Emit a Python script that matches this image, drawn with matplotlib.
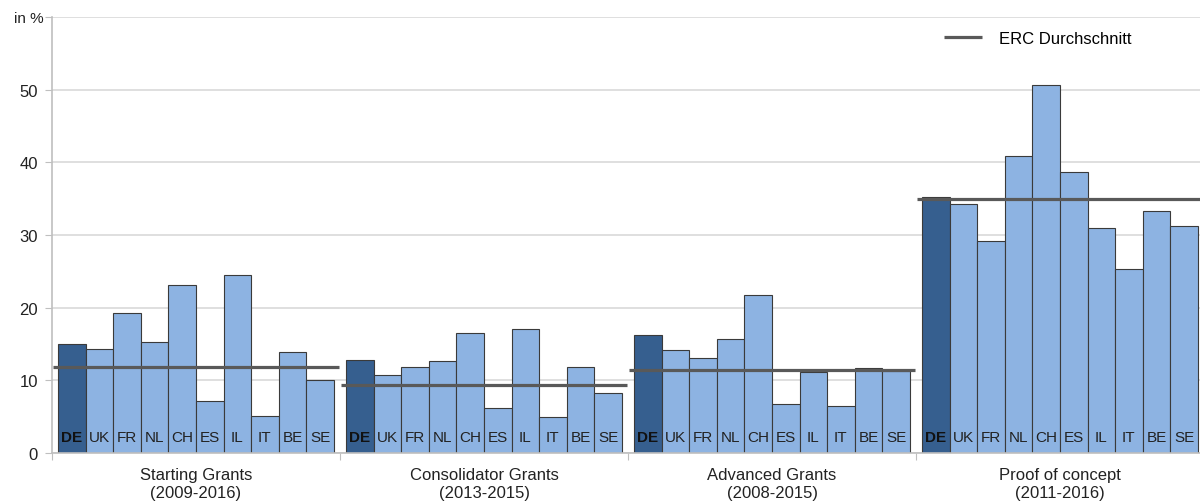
import numpy as np
import matplotlib.pyplot as plt

plt.rcParams['font.family'] = ['Liberation Sans', 'DejaVu Sans']

countries = ['DE', 'UK', 'FR', 'NL', 'CH', 'ES', 'IL', 'IT', 'BE', 'SE']
groups = ['Starting Grants\n(2009-2016)', 'Consolidator Grants\n(2013-2015)',
          'Advanced Grants\n(2008-2015)', 'Proof of concept\n(2011-2016)']

starting = [15.0, 14.3, 19.2, 15.3, 23.1, 7.2, 24.5, 5.05, 13.9, 10.0]
consolidator = [12.8, 10.8, 11.8, 12.7, 16.5, 6.25, 17.0, 4.95, 11.9, 8.25]
advanced = [16.3, 14.2, 13.1, 15.7, 21.8, 6.8, 11.2, 6.4, 11.7, 11.3]
proof = [35.2, 34.3, 29.2, 40.9, 50.6, 38.7, 31.0, 25.3, 33.3, 31.3]
erc_avg = [11.9, 9.4, 11.4, 34.9]

series = [starting, consolidator, advanced, proof]

dark = '#365f8f'
light = '#8db3e2'

fig = plt.figure(figsize=(12, 5.02), dpi=100)
ax = fig.add_axes([52/1200, 1 - 454/502, 1 - 52/1200, (454 - 18)/502])

bw = 0.0958
off = 0.0208
for g, vals in enumerate(series):
    x = g + off + (np.arange(10) + 0.5) * bw
    cols = [dark] + [light] * 9
    ax.bar(x, vals, width=bw, color=cols, edgecolor='#3a3a3a', linewidth=0.8, zorder=2)
    for k, c in enumerate(countries):
        ax.text(x[k], 2.2, c, ha='center', va='center', fontsize=11,
                fontweight='bold' if c == 'DE' else 'normal',
                color='#111111' if c == 'DE' else '#222222', zorder=4)
    ax.hlines(erc_avg[g], g + 0.005, g + 0.995, color='#595959', linewidth=2.3, zorder=3,
              label='ERC Durchschnitt' if g == 0 else None)

ax.set_xlim(0, 1148/288)
ax.set_ylim(0, 60)
ax.set_yticks(np.arange(0, 61, 10))
ax.set_yticklabels(['0', '10', '20', '30', '40', '50', ''])
ax.grid(axis='y', color='#d9d9d9', linewidth=1.2, zorder=0)
ax.set_axisbelow(True)

ax.set_xticks([0, 1, 2, 3])
ax.set_xticklabels([])
ax.set_xticks([0.5, 1.5, 2.5, 3.5], minor=True)
ax.set_xticklabels(groups, minor=True, fontsize=12, color='#222222', linespacing=1.25)
ax.tick_params(axis='x', which='major', length=5, color='#bfbfbf', direction='out')
ax.tick_params(axis='x', which='minor', length=0, pad=10)
ax.tick_params(axis='y', length=5, color='#bfbfbf', labelsize=12, labelcolor='#222222', pad=5)

for s in ['top', 'right']:
    ax.spines[s].set_visible(False)
ax.spines['left'].set_color('#bfbfbf')
ax.spines['bottom'].set_color('#bfbfbf')
ax.spines['left'].set_linewidth(1.2)
ax.spines['bottom'].set_linewidth(1.2)

fig.text(14/1200, 1 - 19/502, 'in %', fontsize=11, color='#222222', va='center', ha='left')

ax.legend(loc='upper right', bbox_to_anchor=(1146/1200, 1 - 17/502), bbox_transform=fig.transFigure,
          frameon=False, fontsize=12, handlelength=2.3, handletextpad=1.0)

fig.savefig('out.png', dpi=100)
